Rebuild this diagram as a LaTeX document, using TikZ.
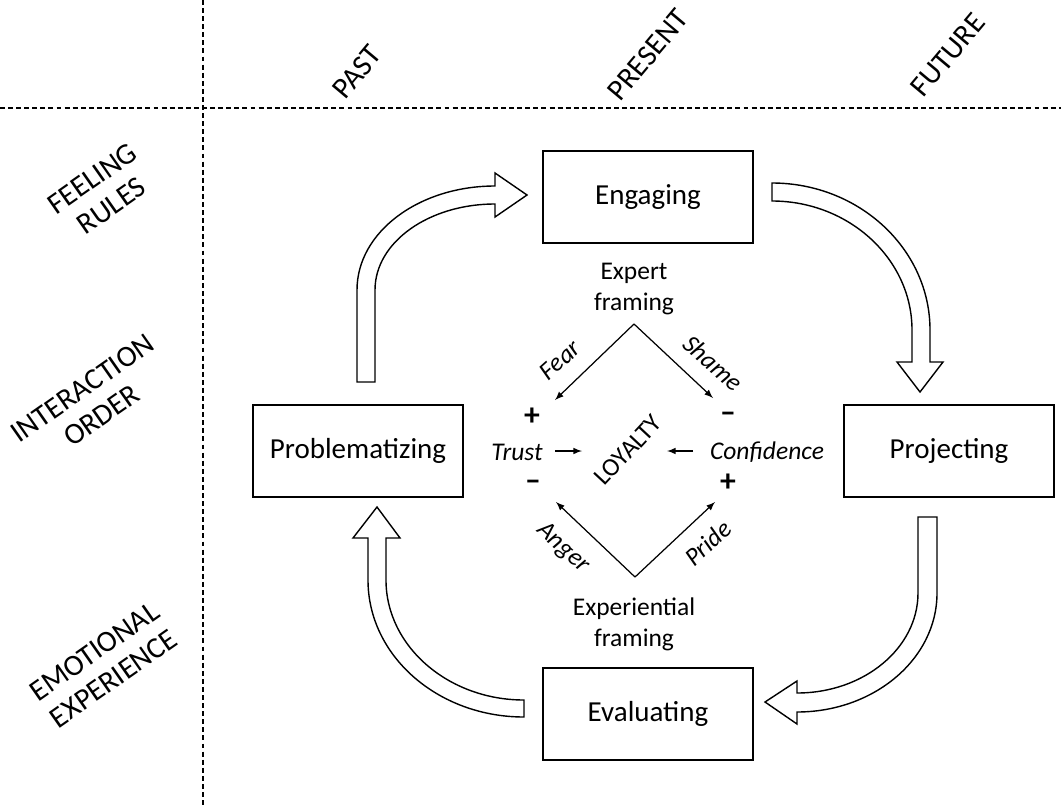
\documentclass[tikz,border=0pt]{standalone}
\usepackage{fontspec}
\setmainfont{Carlito}
\usetikzlibrary{arrows}

\tikzset{
	stage/.style={draw, line width=0.8pt, minimum width=4.2cm, minimum height=1.84cm, font=\fontsize{16.5}{19}\selectfont},
	axislabel/.style={font=\fontsize{17}{19}\selectfont, align=center},
	framing/.style={font=\fontsize{14.5}{17.5}\selectfont, align=center},
	emotion/.style={font=\fontsize{14.5}{17.5}\selectfont\itshape},
	signnode/.style={font=\fontsize{18}{20}\selectfont\bfseries},
	bigarrow/.style={draw, line width=0.8pt, fill=white, line join=miter},
	gridline/.style={line width=0.7pt, dash pattern=on 2.8pt off 1.8pt}
}

\begin{document}
\begin{tikzpicture}[x=0.02cm, y=-0.02cm]
	\useasboundingbox (0,0) rectangle (1061,805);

	\draw[gridline] (203,0) -- (203,805);
	\draw[gridline] (0,108) -- (1061,108);

	\node[axislabel, rotate=50] (past) at (357,72) {PAST};
	\node[axislabel, rotate=50] (present) at (648,55) {PRESENT};
	\node[axislabel, rotate=50] (future) at (948,55) {FUTURE};

	\node[axislabel, rotate=35] (rules) at (102,192) {FEELING\\RULES};
	\node[axislabel, rotate=35] (order) at (92,402) {INTERACTION\\ORDER};
	\node[axislabel, rotate=35] (experience) at (104,665) {EMOTIONAL\\EXPERIENCE};

	\node[stage] (engaging) at (648,197) {Engaging};
	\node[stage] (problematizing) at (358,451) {Problematizing};
	\node[stage] (projecting) at (949,451) {Projecting};
	\node[stage] (evaluating) at (648,714) {Evaluating};

	% the four bent block arrows of the cycle
	\draw[bigarrow] (357,382) -- (357,290) .. controls (357,232) and (419,186) .. (495,186)
		-- (495,173) -- (527,195) -- (495,217) -- (495,204)
		.. controls (429,204) and (375,242) .. (375,290) -- (375,382) -- cycle;
	\draw[bigarrow] (772,183) .. controls (859,183) and (930,249) .. (930,330) -- (930,362)
		-- (943,362) -- (920,392) -- (897,362) -- (912,362) -- (912,330)
		.. controls (912,259) and (849,201) .. (772,201) -- cycle;
	\draw[bigarrow] (918,517) -- (937,517) -- (937,593) .. controls (937,659) and (874,712) .. (797,712)
		-- (797,724) -- (765,702) -- (797,681) -- (797,693)
		.. controls (864,693) and (918,648) .. (918,593) -- cycle;
	\draw[bigarrow] (524,717) -- (524,700) .. controls (448,700) and (386,646) .. (386,580) -- (386,538)
		-- (400,538) -- (377,507) -- (353,538) -- (368,538) -- (368,580)
		.. controls (368,656) and (438,717) .. (524,717) -- cycle;

	% framing diamond
	\node[framing] (expert) at (634,289) {Expert\\framing};
	\node[framing] (experiential) at (634,624) {Experiential\\framing};

	\coordinate (top) at (634,324);
	\coordinate (bottom) at (635,577);
	\coordinate (fearend) at (555,400);
	\coordinate (shameend) at (713,398);
	\coordinate (angerend) at (556,502);
	\coordinate (prideend) at (715,502);

	\draw[line width=0.7pt, -latex] (top) -- (fearend);
	\draw[line width=0.7pt, -latex] (top) -- (shameend);
	\draw[line width=0.7pt, -latex] (bottom) -- (angerend);
	\draw[line width=0.7pt, -latex] (bottom) -- (prideend);

	\node[emotion, rotate=42] (fear) at (560,360) {Fear};
	\node[emotion, rotate=-42] (shame) at (713,363) {Shame};
	\node[emotion, rotate=-42] (anger) at (563,548) {Anger};
	\node[emotion, rotate=42] (pride) at (708,543) {Pride};

	\node[signnode] (trustplus) at (532,417) {+};
	\node[signnode] (confminus) at (728,417) {\textendash};
	\node[signnode] (trustminus) at (533,485) {\textendash};
	\node[signnode] (confplus) at (728,483) {+};

	\node[emotion] (trust) at (517,452) {Trust};
	\node[emotion] (confidence) at (767,452) {Confidence};
	\node[framing, rotate=47] (loyalty) at (628,450) {LOYALTY};

	\coordinate (trustin) at (582,451);
	\coordinate (confin) at (667,451);
	\draw[line width=0.7pt, -latex] (555,451) -- (trustin);
	\draw[line width=0.7pt, -latex] (693,451) -- (confin);
\end{tikzpicture}
\end{document}
